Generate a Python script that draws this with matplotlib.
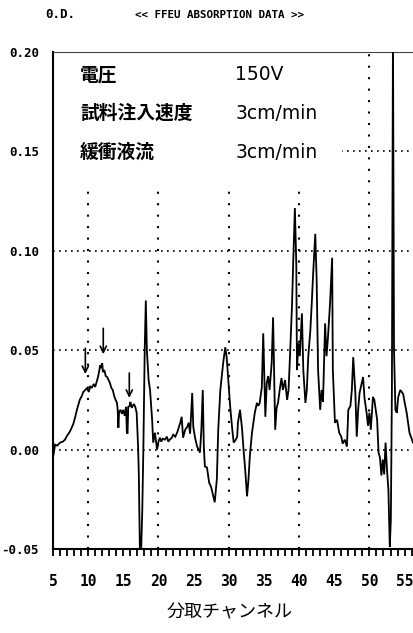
import matplotlib
matplotlib.use("Agg")
import matplotlib.pyplot as plt
from matplotlib.patches import Rectangle
from matplotlib.ticker import MultipleLocator

# ── 1. Data ──────────────────────────────────────────────────────────────────
channel = [
    5.05, 5.3, 5.6, 6.0, 6.4, 6.7, 7.0, 7.4, 7.9, 8.2, 8.4, 8.8, 9.1, 9.3, 9.6,
    9.8, 10.1, 10.3, 10.5, 10.8, 11.0, 11.2, 11.4, 11.6, 11.7, 11.9, 12.0, 12.1,
    12.3, 12.5, 12.7, 12.9, 13.1, 13.3, 13.5, 13.7, 13.9, 14.1, 14.2, 14.3, 14.4,
    14.6, 14.8, 15.0, 15.2, 15.4, 15.5, 15.6, 15.7, 15.9, 16.0, 16.2, 16.5, 16.7,
    16.9, 17.1, 17.2, 17.35, 17.55, 17.7, 17.85, 18.05, 18.2, 18.35, 18.6, 18.8,
    19.1, 19.25, 19.5, 19.8, 20.0, 20.2, 20.4, 20.6, 20.9, 21.2, 21.4, 21.6,
    21.9, 22.1, 22.4, 22.7, 23.1, 23.3, 23.5, 23.8, 24.1, 24.3, 24.5, 24.8,
    24.95, 25.2, 25.5, 25.9, 26.1, 26.3, 26.45, 26.6, 26.9, 27.2, 27.5, 27.8,
    28.0, 28.3, 28.5, 28.8, 29.0, 29.2, 29.5, 29.7, 29.9, 30.2, 30.5, 30.7,
    31.0, 31.2, 31.3, 31.6, 31.9, 32.1, 32.3, 32.6, 32.8, 33.0, 33.3, 33.7,
    34.0, 34.2, 34.4, 34.7, 34.9, 35.2, 35.4, 35.6, 35.8, 36.1, 36.3, 36.6,
    36.8, 37.0, 37.3, 37.5, 37.7, 38.0, 38.3, 38.5, 38.7, 39.0, 39.2, 39.4,
    39.6, 39.7, 39.9, 40.1, 40.4, 40.6, 40.9, 41.1, 41.3, 41.6, 41.8, 42.0,
    42.3, 42.5, 42.7, 43.0, 43.2, 43.4, 43.7, 43.9, 44.1, 44.4, 44.7, 44.8,
    45.1, 45.4, 45.7, 46.0, 46.2, 46.5, 46.8, 47.0, 47.3, 47.5, 47.7, 48.0,
    48.2, 48.4, 48.6, 49.0, 49.1, 49.3, 49.6, 49.8, 50.0, 50.2, 50.5, 50.7,
    51.1, 51.3, 51.5, 51.7, 51.9, 52.1, 52.3, 52.5, 52.7, 52.9, 53.05, 53.2,
    53.35, 53.5, 53.7, 53.9, 54.1, 54.4, 54.6, 54.8, 55.0, 55.3, 55.7, 56.2,
]
od = [
    -0.003, 0.0025, 0.002, 0.0035, 0.004, 0.005, 0.007, 0.009, 0.013, 0.017,
    0.020, 0.025, 0.027, 0.029, 0.030, 0.031, 0.029, 0.032, 0.031, 0.033,
    0.0315, 0.034, 0.0365, 0.040, 0.0425, 0.041, 0.0435, 0.039, 0.040, 0.037,
    0.0365, 0.035, 0.0335, 0.031, 0.030, 0.027, 0.025, 0.0235, 0.020, 0.011,
    0.019, 0.020, 0.018, 0.020, 0.017, 0.0215, 0.009, 0.008, 0.0215, 0.022,
    0.024, 0.021, 0.023, 0.0215, 0.0185, 0.0015, -0.0115, -0.049, -0.049, -0.030,
    0.0, 0.0515, 0.075, 0.050, 0.035, 0.030, 0.015, 0.0035, 0.0085, 0.0,
    0.004, 0.006, 0.004, 0.0055, 0.005, 0.0065, 0.004, 0.005, 0.006, 0.0075,
    0.0065, 0.009, 0.0135, 0.0165, 0.006, 0.010, 0.0115, 0.0135, 0.008, 0.0285,
    0.0115, 0.006, 0.0015, -0.0015, 0.010, 0.030, 0.0015, -0.0085, -0.009, -0.0165,
    -0.019, -0.0235, -0.0265, -0.015, 0.010, 0.030, 0.0365, 0.0435, 0.0515, 0.0465,
    0.0365, 0.0215, 0.010, 0.0035, 0.005, 0.0065, 0.0135, 0.020, 0.010, 0.0,
    -0.0085, -0.0235, -0.015, -0.003, 0.0085, 0.0185, 0.0235, 0.022, 0.0235, 0.0315,
    0.0585, 0.0165, 0.0335, 0.037, 0.030, 0.0435, 0.0665, 0.010, 0.021, 0.0235,
    0.0315, 0.036, 0.030, 0.035, 0.025, 0.030, 0.0465, 0.0735, 0.0985, 0.1215,
    0.0935, 0.040, 0.0535, 0.047, 0.0685, 0.040, 0.0235, 0.030, 0.0465, 0.060,
    0.0735, 0.0885, 0.1085, 0.085, 0.040, 0.020, 0.030, 0.024, 0.0635, 0.047,
    0.056, 0.0735, 0.0965, 0.040, 0.0135, 0.015, 0.0085, 0.0065, 0.003, 0.005,
    0.0015, 0.020, 0.022, 0.030, 0.0465, 0.0285, 0.0065, 0.020, 0.0285, 0.035,
    0.0365, 0.026, 0.0185, 0.012, 0.0185, 0.010, 0.0265, 0.025, 0.015, -0.0015,
    -0.004, -0.013, -0.005, -0.0125, 0.0035, -0.010, -0.020, -0.049, -0.035, 0.030,
    0.210, 0.050, 0.020, 0.0185, 0.0265, 0.030, 0.029, 0.028, 0.024, 0.0185,
    0.0085, 0.0035,
]

x_ticks = [5, 10, 15, 20, 25, 30, 35, 40, 45, 50, 55]
y_ticks = [-0.05, 0.00, 0.05, 0.10, 0.15, 0.20]
y_ticklabels = ["-0.05", "0.00", "0.05", "0.10", "0.15", "0.20"]
x_grid = [10, 20, 30, 40, 50]

# arrows marking the shoulders of the first broad peak
arrow_ch   = [9.6, 12.15, 15.85]
arrow_tail = [0.051, 0.061, 0.0385]
arrow_tip  = [0.038, 0.048, 0.026]

cond_labels = ["電圧", "試料注入速度", "緩衝液流"]
cond_values = ["150V", "3cm/min", "3cm/min"]

# ── 2. Figure / axes ─────────────────────────────────────────────────────────
W, H = 413, 633
fig = plt.figure(figsize=(W / 100, H / 100), dpi=100)
ax = fig.add_axes([53 / W, 1 - 549 / H, 360 / W, 497 / H])

ax.plot(channel, od, color="black", lw=1.3, zorder=3, solid_joinstyle="miter")

ax.set_xlim(5, 56.2)
ax.set_ylim(-0.05, 0.20)

# ── 3. Grid (dotted) ─────────────────────────────────────────────────────────
ax.yaxis.grid(True, linestyle=(0, (1, 2.6)), color="black", lw=1.2)
ax.set_axisbelow(True)
for gx in x_grid:
    ax.axvline(gx, linestyle=(0, (1, 4.5)), color="black", lw=1.5, zorder=0.5)

# white box holding the run conditions (hides the grid underneath)
ax.add_patch(Rectangle((0, 0.736), 0.803, 0.264, transform=ax.transAxes,
                       facecolor="white", edgecolor="none", zorder=1))

cjk = ["Noto Sans CJK JP", "DejaVu Sans"]
for i, (lab, val) in enumerate(zip(cond_labels, cond_values)):
    yy = 0.954 - i * 0.078
    ax.text(0.075, yy, lab, transform=ax.transAxes, family=cjk,
            weight="bold", fontsize=13.5, va="center", ha="left", zorder=4)
    ax.text(0.506, yy, val, transform=ax.transAxes, family="DejaVu Sans",
            fontsize=13.5, va="center", ha="left", zorder=4)

# ── 4. Arrows ────────────────────────────────────────────────────────────────
for ch, top, tip in zip(arrow_ch, arrow_tail, arrow_tip):
    ax.annotate("", xy=(ch, tip), xytext=(ch, top),
                arrowprops=dict(arrowstyle="->", color="black", lw=1.2,
                                mutation_scale=11, shrinkA=0, shrinkB=0),
                zorder=4)

# ── 5. Spines / ticks ────────────────────────────────────────────────────────
ax.spines["right"].set_visible(False)
ax.spines["top"].set_linewidth(0.8)
ax.spines["top"].set_color("#444444")
ax.spines["left"].set_linewidth(1.5)
ax.spines["bottom"].set_linewidth(1.5)

tick_font = dict(family="DejaVu Sans Mono", weight="bold")
ax.set_xticks(x_ticks)
ax.set_xticklabels([str(t) for t in x_ticks], fontsize=10.5, **tick_font)
ax.xaxis.set_minor_locator(MultipleLocator(1))
ax.tick_params(axis="x", which="both", direction="out", length=5, width=1.3,
               pad=13)
ax.set_yticks(y_ticks)
ax.set_yticklabels(y_ticklabels, fontsize=9, **tick_font)
ax.tick_params(axis="y", length=0, pad=10)

# ── 6. Titles / labels ───────────────────────────────────────────────────────
fig.text(45 / W, 1 - 15 / H, "0.D.", fontsize=9, va="center", ha="left",
         **tick_font)
fig.text(135 / W, 1 - 15 / H, "<< FFEU ABSORPTION DATA >>", fontsize=7.8,
         va="center", ha="left", **tick_font)
fig.text(230 / W, 1 - 612 / H, "分取チャンネル", family=cjk, fontsize=13,
         va="center", ha="center")

fig.savefig("out.png", dpi=100)
